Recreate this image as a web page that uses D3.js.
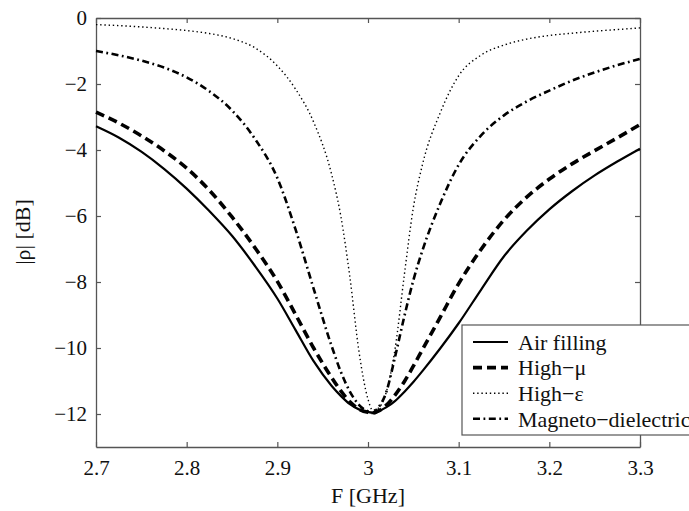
<!DOCTYPE html>
<html>
<head>
<meta charset="utf-8">
<script src="https://cdn.jsdelivr.net/npm/d3@7"></script>
<style>
  body { margin: 0; background: #fff; }
  svg { display: block; }
  text { font-family: "Liberation Serif", "Times New Roman", serif; fill: #111; }
</style>
</head>
<body>
<div id="chart"></div>
<script>
// frequency grid (GHz), denser around the resonance
var freqs = [2.70, 2.725, 2.75, 2.775, 2.80, 2.825, 2.85, 2.875, 2.90, 2.92, 2.94, 2.96, 2.97, 2.98, 2.99,
             3.00, 3.005, 3.01, 3.02, 3.03, 3.04, 3.05, 3.06, 3.08, 3.10, 3.125, 3.15, 3.175, 3.20, 3.225,
             3.25, 3.275, 3.30];

// |rho| in dB
var airFilling = [-3.28, -3.62, -4.05, -4.57, -5.17, -5.85, -6.60, -7.50, -8.50, -9.45, -10.40, -11.15, -11.45,
                  -11.70, -11.86, -11.94, -11.96, -11.93, -11.80, -11.60, -11.33, -11.03, -10.70, -10.00, -9.25,
                  -8.22, -7.22, -6.45, -5.80, -5.25, -4.77, -4.35, -3.96];
var highMu = [-2.85, -3.18, -3.57, -4.02, -4.55, -5.22, -6.03, -6.95, -7.98, -8.98, -10.00, -10.90, -11.30,
              -11.63, -11.85, -11.95, -11.97, -11.93, -11.74, -11.42, -11.02, -10.55, -10.05, -9.05, -8.05,
              -7.00, -6.12, -5.43, -4.88, -4.42, -4.02, -3.63, -3.23];
var highEps = [-0.20, -0.23, -0.27, -0.32, -0.38, -0.47, -0.62, -0.90, -1.45, -2.15, -3.15, -4.75, -6.00,
               -7.85, -10.10, -11.55, -11.88, -11.85, -11.35, -10.00, -7.80, -5.75, -4.45, -2.85, -1.75,
               -1.12, -0.82, -0.64, -0.53, -0.46, -0.40, -0.35, -0.30];
var magnetoDielectric = [-1.00, -1.13, -1.29, -1.50, -1.80, -2.22, -2.80, -3.65, -4.85, -6.40, -8.20, -9.95,
                         -10.72, -11.32, -11.72, -11.92, -11.97, -11.85, -11.35, -10.25, -9.05, -7.95, -7.05,
                         -5.60, -4.45, -3.55, -2.95, -2.53, -2.20, -1.90, -1.65, -1.43, -1.24];

var seriesNames = ["Air filling", "High\u2212\u03bc", "High\u2212\u03b5", "Magneto\u2212dielectric"];

var xTickValues = [2.7, 2.8, 2.9, 3.0, 3.1, 3.2, 3.3];
var xTickLabels = ["2.7", "2.8", "2.9", "3", "3.1", "3.2", "3.3"];
var yTickValues = [0, -2, -4, -6, -8, -10, -12];
var yTickLabels = ["0", "\u22122", "\u22124", "\u22126", "\u22128", "\u221210", "\u221212"];

var width = 689, height = 511;
var margin = { top: 18, right: 49, bottom: 64, left: 96 };
var w = width - margin.left - margin.right,
    h = height - margin.top - margin.bottom;

var svg = d3.select("#chart").append("svg")
    .attr("width", width)
    .attr("height", height);

var g = svg.append("g")
    .attr("transform", "translate(" + margin.left + "," + margin.top + ")");

var x = d3.scaleLinear().domain([2.7, 3.3]).range([0, w]);
var y = d3.scaleLinear().domain([-13, 0]).range([h, 0]);

var axisColor = "#555";

// bottom axis with inward ticks
var xAxis = g.append("g")
    .attr("transform", "translate(0," + h + ")")
    .call(d3.axisBottom(x).tickValues(xTickValues)
        .tickFormat(function (d, i) { return xTickLabels[i]; })
        .tickSizeInner(-5).tickSizeOuter(0).tickPadding(13));
xAxis.selectAll("text").style("font-size", "21px").attr("fill", "#111");

// top axis, ticks only
var xTop = g.append("g")
    .call(d3.axisTop(x).tickValues(xTickValues).tickFormat("")
        .tickSizeInner(-5).tickSizeOuter(0));

// left axis
var yAxis = g.append("g")
    .call(d3.axisLeft(y).tickValues(yTickValues)
        .tickFormat(function (d, i) { return yTickLabels[i]; })
        .tickSizeInner(-5).tickSizeOuter(0).tickPadding(9));
yAxis.selectAll("text").style("font-size", "21px").attr("fill", "#111");

// right axis, ticks only
var yRight = g.append("g")
    .attr("transform", "translate(" + w + ",0)")
    .call(d3.axisRight(y).tickValues(yTickValues).tickFormat("")
        .tickSizeInner(-5).tickSizeOuter(0));

[xAxis, xTop, yAxis, yRight].forEach(function (a) {
    a.select(".domain").attr("stroke", axisColor).attr("stroke-width", 1.3);
    a.selectAll(".tick line").attr("stroke", axisColor).attr("stroke-width", 1.2);
});

// axis titles
g.append("text")
    .attr("x", w / 2)
    .attr("y", h + 56)
    .attr("text-anchor", "middle")
    .style("font-size", "22px")
    .text("F [GHz]");

svg.append("text")
    .attr("transform", "translate(30," + (margin.top + 214) + ")rotate(-90)")
    .attr("text-anchor", "middle")
    .style("font-size", "22px")
    .text("|\u03c1| [dB]");

// series
var series = [
    { name: seriesNames[0], values: airFilling, width: 2.2, dash: null },
    { name: seriesNames[1], values: highMu, width: 3.6, dash: "9,5" },
    { name: seriesNames[2], values: highEps, width: 1.4, dash: "1.4,2.8" },
    { name: seriesNames[3], values: magnetoDielectric, width: 2.6, dash: "7,3.5,1.8,3.5" }
];

var line = d3.line()
    .x(function (d) { return x(d[0]); })
    .y(function (d) { return y(d[1]); })
    .curve(d3.curveMonotoneX);

g.selectAll(".series")
    .data(series)
    .enter()
    .append("path")
    .attr("class", "series")
    .attr("d", function (s) { return line(freqs.map(function (f, i) { return [f, s.values[i]]; })); })
    .attr("fill", "none")
    .attr("stroke", "#000")
    .attr("stroke-width", function (s) { return s.width; })
    .attr("stroke-dasharray", function (s) { return s.dash; });

// legend
var legend = svg.append("g")
    .attr("transform", "translate(462,325)");

legend.append("rect")
    .attr("width", 260)
    .attr("height", 110)
    .attr("fill", "#fff")
    .attr("stroke", axisColor)
    .attr("stroke-width", 1.2);

var rows = legend.selectAll(".row")
    .data(series)
    .enter()
    .append("g")
    .attr("transform", function (d, i) { return "translate(0," + (17 + i * 25.6) + ")"; });

rows.append("line")
    .attr("x1", 11).attr("x2", 46)
    .attr("stroke", "#000")
    .attr("stroke-width", function (s) { return s.width; })
    .attr("stroke-dasharray", function (s) { return s.dash; });

rows.append("text")
    .attr("x", 56)
    .attr("dy", "0.35em")
    .style("font-size", "22px")
    .text(function (s) { return s.name; });
</script>
</body>
</html>
